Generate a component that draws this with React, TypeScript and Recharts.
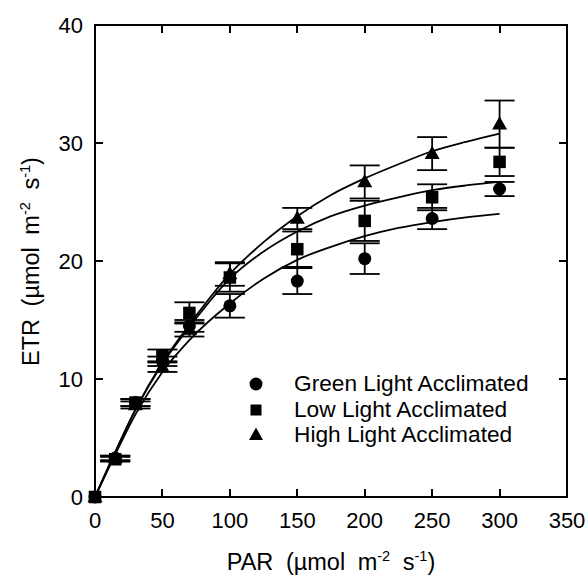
import { ComposedChart, Line, Scatter, ErrorBar, XAxis, YAxis } from "recharts";

// PAR levels measured (µmol m-2 s-1)
const parLevels = [0, 15, 30, 50, 70, 100, 150, 200, 250, 300];

const greenEtr = [0, 3.3, 8.0, 11.5, 14.5, 16.2, 18.3, 20.2, 23.6, 26.1];
const greenErr = [0, 0.2, 0.3, 0.4, 0.5, 1.0, 1.1, 1.3, 0.9, 0.6];
const lowEtr = [0, 3.2, 8.0, 12.0, 15.6, 18.6, 21.0, 23.4, 25.4, 28.4];
const lowErr = [0, 0.2, 0.3, 0.5, 0.9, 1.2, 1.5, 1.7, 1.1, 1.2];
const highEtr = [0, 3.3, 7.8, 11.0, 14.2, 18.9, 23.6, 26.7, 29.1, 31.6];
const highErr = [0, 0.2, 0.3, 0.4, 0.6, 1.0, 0.9, 1.4, 1.4, 2.0];

// fitted curves
const fitX = [0, 15, 30, 50, 70, 100, 125, 150, 175, 200, 225, 250, 275, 300];
const greenFit = [0, 3.6, 7.0, 10.6, 13.3, 16.4, 18.5, 20.1, 21.2, 22.1, 22.8, 23.3, 23.7, 24.0];
const lowFit = [0, 3.8, 7.4, 11.3, 14.4, 18.5, 20.8, 22.5, 23.8, 24.7, 25.4, 26.0, 26.4, 26.7];
const highFit = [0, 3.8, 7.4, 11.4, 14.6, 18.9, 21.6, 23.8, 25.6, 27.0, 28.2, 29.3, 30.1, 30.8];

const xTicks = [0, 50, 100, 150, 200, 250, 300, 350];
const yTicks = [0, 10, 20, 30, 40];
const X_MAX = 350;
const Y_MAX = 40;

const legendItems = ["Green Light Acclimated", "Low Light Acclimated", "High Light Acclimated"];

const FONT = "Arial, 'Liberation Sans', sans-serif";
const TICK = 8;
const W = 588;
const H = 578;
const Y_AXIS_W = 95;
const X_AXIS_H = 81;
const MARGIN = { top: 25, right: 21, bottom: 0, left: 0 };
// plot box, from the margins and axis sizes above
const BOX = {
  left: MARGIN.left + Y_AXIS_W,
  right: W - MARGIN.right,
  top: MARGIN.top,
  bottom: H - MARGIN.bottom - X_AXIS_H,
};

const pts = (ys: number[], errs: number[]) =>
  parLevels.map((x, i) => ({ x, y: ys[i], err: errs[i] }));
const fit = (ys: number[]) => fitX.map((x, i) => ({ x, y: ys[i] }));

const greenPts = pts(greenEtr, greenErr);
const lowPts = pts(lowEtr, lowErr);
const highPts = pts(highEtr, highErr);

function Circle({ cx, cy, r = 6.5 }: any) {
  return <circle cx={cx} cy={cy} r={r} fill="#000" />;
}
function Square({ cx, cy, s = 12.5 }: any) {
  return <rect x={cx - s / 2} y={cy - s / 2} width={s} height={s} fill="#000" />;
}
function Triangle({ cx, cy, w = 15 }: any) {
  const h = w * 0.88;
  return (
    <polygon
      points={`${cx},${cy - h * 0.6} ${cx - w / 2},${cy + h * 0.4} ${cx + w / 2},${cy + h * 0.4}`}
      fill="#000"
    />
  );
}

const BottomTick = ({ x, y, payload }: any) => (
  <text x={x} y={y + 31} textAnchor="middle" fontSize={22} fontFamily={FONT} fill="#000">
    {payload.value}
  </text>
);
const LeftTick = ({ x, y, payload }: any) => (
  <text x={x - 12} y={y + 8} textAnchor="end" fontSize={22} fontFamily={FONT} fill="#000">
    {payload.value}
  </text>
);

// box frame with inward ticks on all four sides (plain html boxes)
function Frame() {
  const bw = BOX.right - BOX.left;
  const bh = BOX.bottom - BOX.top;
  const innerX = xTicks.filter((v) => v > 0 && v < X_MAX);
  const innerY = yTicks.filter((v) => v > 0 && v < Y_MAX);
  const mark = (left: number, top: number, width: number, height: number, key: string) => (
    <div key={key} style={{ position: "absolute", left, top, width, height, background: "#000" }} />
  );
  return (
    <>
      <div
        style={{
          position: "absolute",
          left: BOX.left - 1,
          top: BOX.top - 1,
          width: bw - 2,
          height: bh - 2,
          border: "2px solid #000",
          pointerEvents: "none",
        }}
      />
      {innerX.map((v) => {
        const px = BOX.left + (v / X_MAX) * bw;
        return [
          mark(px - 1, BOX.bottom - TICK, 2, TICK, `xb${v}`),
          mark(px - 1, BOX.top, 2, TICK, `xt${v}`),
        ];
      })}
      {innerY.map((v) => {
        const py = BOX.bottom - (v / Y_MAX) * bh;
        return [
          mark(BOX.left, py - 1, TICK, 2, `yl${v}`),
          mark(BOX.right - TICK, py - 1, TICK, 2, `yr${v}`),
        ];
      })}
    </>
  );
}

const supStyle: React.CSSProperties = {
  fontSize: "0.62em",
  position: "relative",
  top: "-0.6em",
  verticalAlign: "baseline",
};

function Unit() {
  return (
    <>
      (µmol m<span style={supStyle}>-2</span> s<span style={supStyle}>-1</span>)
    </>
  );
}

const titleStyle: React.CSSProperties = {
  position: "absolute",
  width: 472,
  textAlign: "center",
  fontFamily: FONT,
  fontSize: 23.5,
  lineHeight: "23px",
  height: 23,
  wordSpacing: 6,
  whiteSpace: "nowrap",
};

export default function App() {
  const axisLine = { stroke: "#000", strokeWidth: 2 };
  return (
    <div style={{ position: "absolute", left: 0, top: 0, width: W, height: H, background: "#fff" }}>
      <ComposedChart width={W} height={H} margin={MARGIN}>
        <XAxis
          xAxisId="b"
          dataKey="x"
          type="number"
          domain={[0, X_MAX]}
          ticks={xTicks}
          interval={0}
          height={X_AXIS_H}
          tickSize={0}
          tickMargin={0}
          tickLine={false}
          axisLine={axisLine}
          tick={<BottomTick />}
        />
        <YAxis
          yAxisId="l"
          dataKey="y"
          type="number"
          domain={[0, Y_MAX]}
          ticks={yTicks}
          interval={0}
          width={Y_AXIS_W}
          tickSize={0}
          tickMargin={0}
          tickLine={false}
          axisLine={axisLine}
          tick={<LeftTick />}
        />

        <Line xAxisId="b" yAxisId="l" data={fit(greenFit)} dataKey="y" type="monotone" stroke="#000" strokeWidth={1.8} dot={false} isAnimationActive={false} />
        <Line xAxisId="b" yAxisId="l" data={fit(lowFit)} dataKey="y" type="monotone" stroke="#000" strokeWidth={1.8} dot={false} isAnimationActive={false} />
        <Line xAxisId="b" yAxisId="l" data={fit(highFit)} dataKey="y" type="monotone" stroke="#000" strokeWidth={1.8} dot={false} isAnimationActive={false} />

        <Scatter xAxisId="b" yAxisId="l" data={greenPts} shape={<Circle />} isAnimationActive={false}>
          <ErrorBar dataKey="err" direction="y" width={15} stroke="#000" strokeWidth={1.8} />
        </Scatter>
        <Scatter xAxisId="b" yAxisId="l" data={lowPts} shape={<Square />} isAnimationActive={false}>
          <ErrorBar dataKey="err" direction="y" width={15} stroke="#000" strokeWidth={1.8} />
        </Scatter>
        <Scatter xAxisId="b" yAxisId="l" data={highPts} shape={<Triangle />} isAnimationActive={false}>
          <ErrorBar dataKey="err" direction="y" width={15} stroke="#000" strokeWidth={1.8} />
        </Scatter>
      </ComposedChart>

      <Frame />

      {/* legend */}
      <div style={{ position: "absolute", left: 243, top: 371, fontFamily: FONT, fontSize: 22.7, color: "#000" }}>
        {legendItems.map((label, i) => (
          <div key={label} style={{ display: "flex", alignItems: "center", height: 25.5, whiteSpace: "nowrap" }}>
            <svg width={26} height={25} style={{ marginRight: 25 }}>
              {i === 0 && <Circle cx={13} cy={13} r={6.5} />}
              {i === 1 && <Square cx={13} cy={13} s={11} />}
              {i === 2 && <Triangle cx={13} cy={13} w={14} />}
            </svg>
            <span>{label}</span>
          </div>
        ))}
      </div>

      {/* axis titles */}
      <div style={{ ...titleStyle, left: 95, top: 551 }}>
        PAR <Unit />
      </div>
      <div
        style={{
          ...titleStyle,
          left: 31 - 236,
          top: 261 - 11.5,
          transform: "rotate(-90deg)",
          transformOrigin: "center",
        }}
      >
        ETR <Unit />
      </div>
    </div>
  );
}
